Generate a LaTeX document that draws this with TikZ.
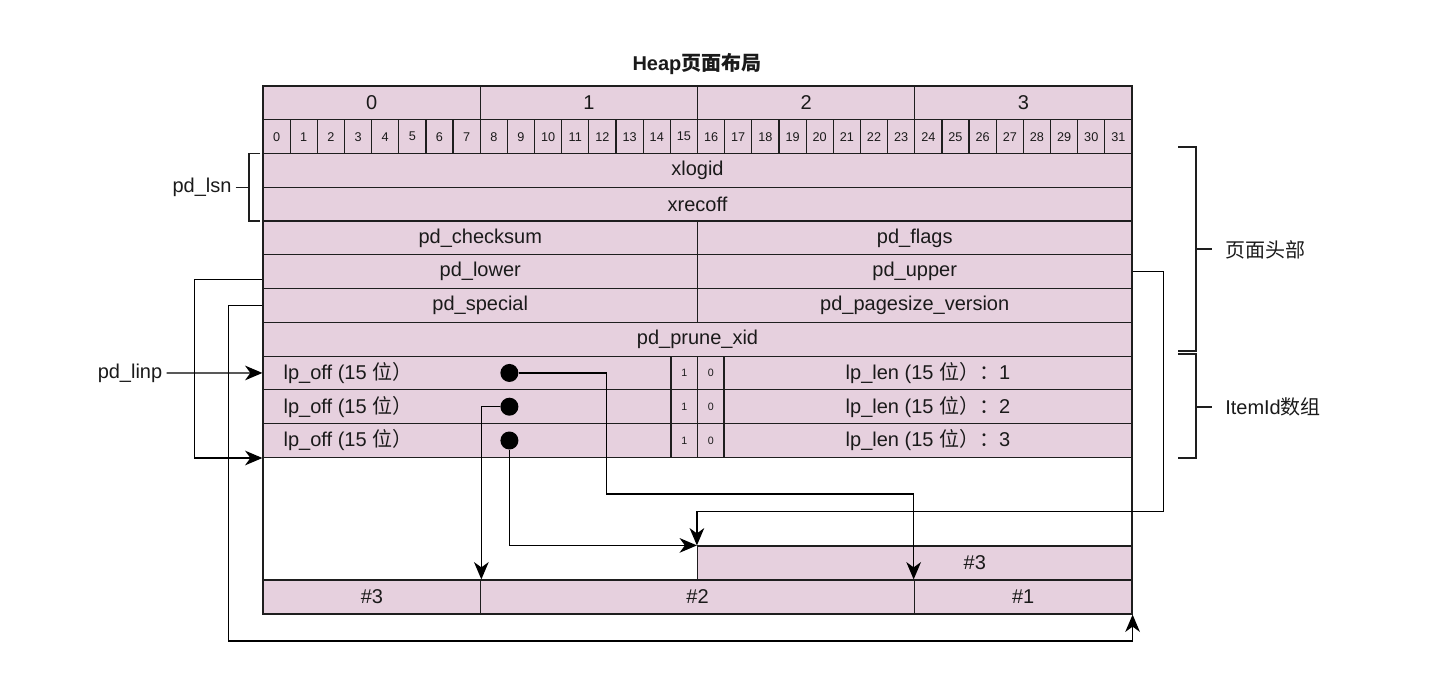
\documentclass[tikz,border=0pt]{standalone}
\usepackage{fontspec}
\setmainfont{Liberation Sans}
\newfontfamily\cjk{Noto Sans CJK SC}
\usetikzlibrary{fit,calc,arrows.meta}
\definecolor{cellc}{HTML}{E6D0DE}
\definecolor{linec}{HTML}{1E1E1E}
\definecolor{textc}{HTML}{1A1A1A}
\newcommand{\bigf}{\fontsize{15pt}{18pt}\selectfont}
\newcommand{\bitf}{\fontsize{9.5pt}{11pt}\selectfont}
\newcommand{\tinyf}{\fontsize{8pt}{9pt}\selectfont}
\tikzset{
  cell/.style={draw=linec, fill=cellc, line width=0.9pt, inner sep=0pt},
  lbl/.style={inner sep=0pt, text=textc, font=\bigf},
  txt/.style={inner sep=0pt, text=textc, font=\bigf},
  conn/.style={draw=black, line width=0.9pt},
  arr/.style={conn, -{Stealth[length=13pt,width=11pt,inset=4pt]}},
  dot/.style={circle, fill=black, inner sep=0pt, minimum size=13.5pt},
  brk/.style={draw=linec, line width=0.9pt}
}
\begin{document}
\begin{tikzpicture}[x=0.75pt,y=-0.75pt]
\useasboundingbox (0,0) rectangle (1440,689);
% title
\node[txt, font=\bigf\bfseries] (title) at (697,64) {Heap{\cjk 页面布局}};
% page frame
\node[draw=linec, line width=0.9pt, inner sep=0pt, fit={(263,86) (1132,614)}] (page) {};
% byte row
\foreach \i in {0,...,3} {
  \node[cell, fit={({263+\i*217.25},86) ({263+(\i+1)*217.25},119.8)}, label={[lbl]center:\i}] (B\i) {};
}
% bit row
\foreach \i in {0,...,31} {
  \node[cell, fit={({263+\i*27.156},119.8) ({263+(\i+1)*27.156},153.5)}, label={[lbl,font=\bitf]center:\i}] (b\i) {};
}
% header fields
\node[cell, fit={(263,153.5) (1132,187.3)}, label={[lbl]center:xlogid}] (xlogid) {};
\node[cell, fit={(263,187.3) (1132,221)}, label={[lbl]center:xrecoff}] (xrecoff) {};
\node[cell, fit={(263,221) (697.5,254.8)}, label={[lbl]center:pd\_checksum}] (checksum) {};
\node[cell, fit={(697.5,221) (1132,254.8)}, label={[lbl]center:pd\_flags}] (flags) {};
\node[cell, fit={(263,254.8) (697.5,288.6)}, label={[lbl]center:pd\_lower}] (lower) {};
\node[cell, fit={(697.5,254.8) (1132,288.6)}, label={[lbl]center:pd\_upper}] (upper) {};
\node[cell, fit={(263,288.6) (697.5,322.3)}, label={[lbl]center:pd\_special}] (special) {};
\node[cell, fit={(697.5,288.6) (1132,322.3)}, label={[lbl]center:pd\_pagesize\_version}] (pagesize) {};
\node[cell, fit={(263,322.3) (1132,356.1)}, label={[lbl]center:pd\_prune\_xid}] (prune) {};
% item id rows
\foreach \k/\ya/\yb in {1/356.1/389.8, 2/389.8/423.6, 3/423.6/457.4} {
  \node[cell, fit={(263,\ya) (671,\yb)}] (off\k) {};
  \node[txt, anchor=west] (offt\k) at ($(off\k.west)+(21,0)$) {lp\_off (15 {\cjk 位）}};
  \node[cell, fit={(671,\ya) (697.5,\yb)}, label={[lbl,font=\tinyf]center:1}] (one\k) {};
  \node[cell, fit={(697.5,\ya) (724,\yb)}, label={[lbl,font=\tinyf]center:0}] (zero\k) {};
  \node[cell, fit={(724,\ya) (1132,\yb)}, label={[lbl]center:{lp\_len (15 {\cjk 位）：}\k}}] (len\k) {};
  \node[dot] (d\k) at ($(off\k.west)+(247,0)$) {};
}
% tuples
\node[cell, fit={(697.5,546) (1132,580)}, label={[lbl,xshift=45pt]center:\#3}] (top3) {};
\node[cell, fit={(263,580) (480.75,614)}, label={[lbl]center:\#3}] (s3) {};
\node[cell, fit={(480.75,580) (914.25,614)}, label={[lbl]center:\#2}] (s2) {};
\node[cell, fit={(914.25,580) (1132,614)}, label={[lbl]center:\#1}] (s1) {};
% left labels and bracket
\node[txt] (lsn) at (202,187.3) {pd\_lsn};
\draw[brk] (260,153.5) -- (249,153.5) -- (249,221) -- (260,221);
\draw[brk] (lsn.east) ++(4,0) -- (249,187.3);
\node[txt] (linp) at (130,373) {pd\_linp};
% right brackets
\draw[brk] (1178,147) -- (1196,147) -- (1196,351) -- (1178,351);
\draw[brk] (1196,249) -- (1212,249);
\node[txt, anchor=west] (hdr) at (1225,250) {{\cjk 页面头部}};
\draw[brk] (1178,354) -- (1196,354) -- (1196,458) -- (1178,458);
\draw[brk] (1196,407) -- (1212,407);
\node[txt, anchor=west] (items) at (1225,407) {ItemId{\cjk 数组}};
% connectors
\draw[arr] ($(linp.east)+(4,0)$) -- (off1.west);
\draw[arr] ($(lower.west)+(0,8)$) -- ++(-68,0) |- (off3.south west);
\draw[arr] (special.west) -- ++(-34,0) -- ++(0,335.5) -| (s1.south east);
\draw[arr] (upper.east) -- ++(31,0) -- ++(0,240) -| (top3.north west);
\draw[arr] (d1.east) -- ++(88,0) -- ++(0,121) -| (s1.north west);
\draw[arr] (d2.west) -| (s3.north east);
\draw[arr] (d3.south) |- (top3.north west);
\end{tikzpicture}
\end{document}
